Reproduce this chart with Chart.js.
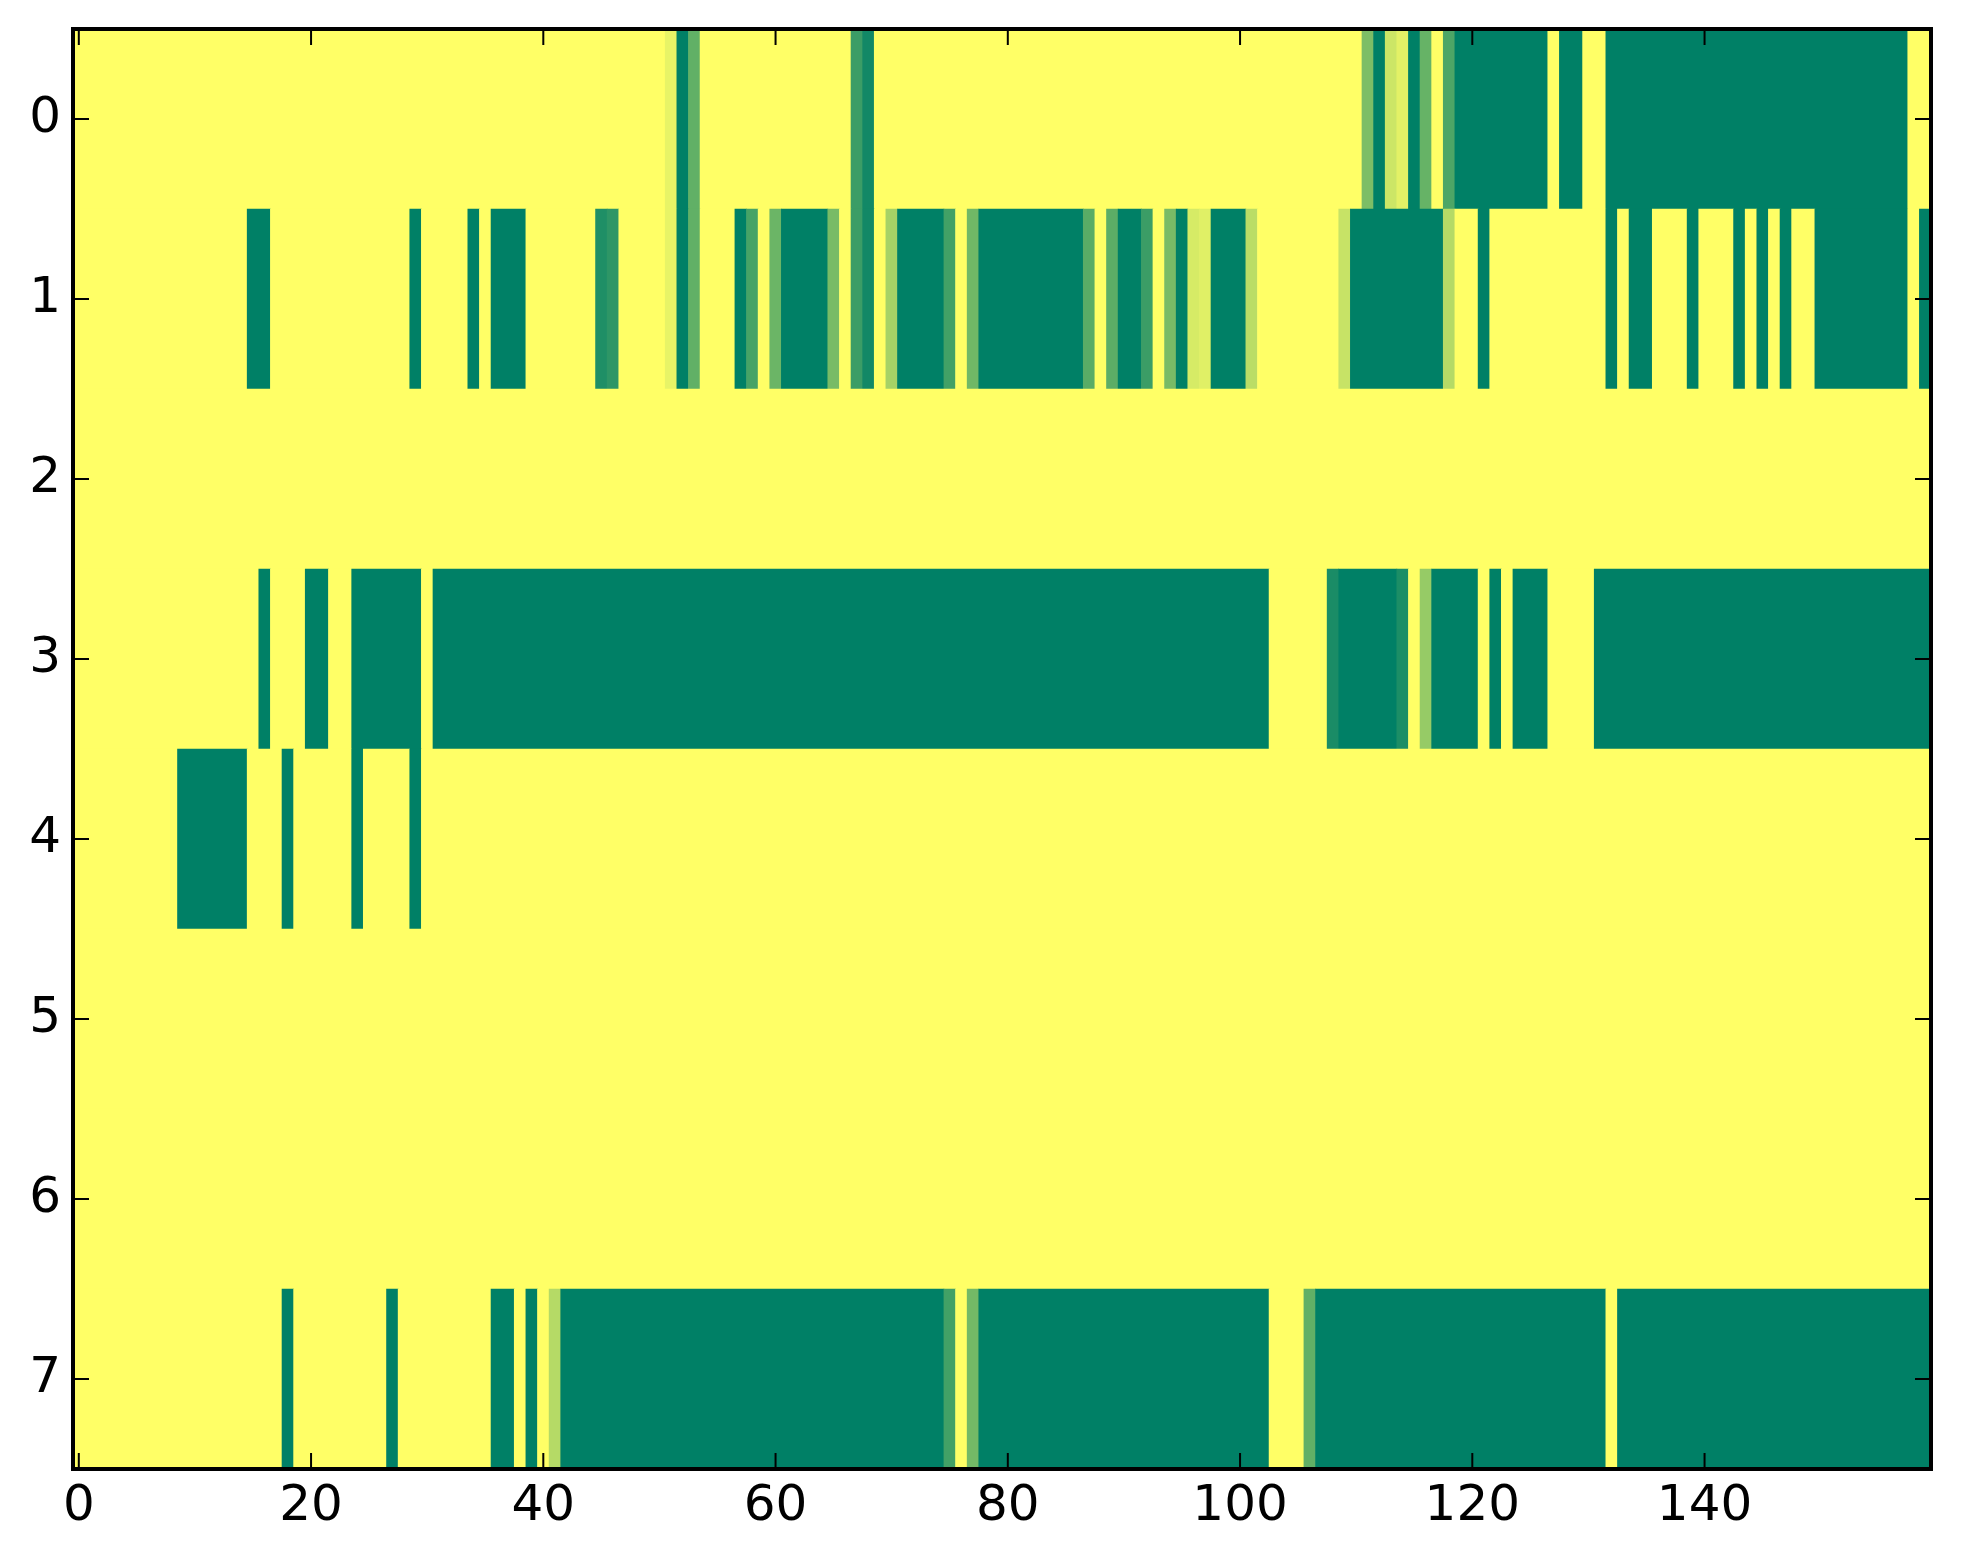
<!DOCTYPE html>
<html>
<head>
<meta charset="utf-8">
<script src="https://cdn.jsdelivr.net/npm/chart.js@4.4.1/dist/chart.umd.min.js"></script>
<style>
  html, body { margin: 0; padding: 0; background: #fff; }
  canvas { display: block; }
</style>
</head>
<body>
<canvas id="heat" width="1963" height="1564"></canvas>
<script>
// one array per image row, 160 columns each (0 = dark green, 1 = yellow)
const row0 = [
  1,1,1,1,1,1,1,1,1,1,1,1,1,1,1,1,1,1,1,1,
  1,1,1,1,1,1,1,1,1,1,1,1,1,1,1,1,1,1,1,1,
  1,1,1,1,1,1,1,1,1,1,1,.91,0,.38,1,1,1,1,1,1,
  1,1,1,1,1,1,1,.23,.07,1,1,1,1,1,1,1,1,1,1,1,
  1,1,1,1,1,1,1,1,1,1,1,1,1,1,1,1,1,1,1,1,
  1,1,1,1,1,1,1,1,1,1,1,.49,0,.8,.89,0,.4,1,.3,0,
  0,0,0,0,0,0,0,1,0,0,1,1,0,0,0,0,0,0,0,0,
  0,0,0,0,0,0,0,0,0,0,0,0,0,0,0,0,0,0,1,1
];
const row1 = [
  1,1,1,1,1,1,1,1,1,1,1,1,1,1,1,0,0,1,1,1,
  1,1,1,1,1,1,1,1,1,0,1,1,1,1,0,1,0,0,0,1,
  1,1,1,1,1,.12,.18,1,1,1,1,.91,0,.38,1,1,1,0,.28,1,
  .42,0,0,0,0,.47,1,.23,.07,1,.65,0,0,0,0,.26,1,.44,0,0,
  0,0,0,0,0,0,0,.35,1,.36,0,0,.23,1,.47,0,.84,.88,0,0,
  0,.73,1,1,1,1,1,1,1,.78,0,0,0,0,0,0,0,0,.71,1,
  1,0,1,1,1,1,1,1,1,1,1,1,0,1,0,0,1,1,1,0,
  1,1,1,0,1,0,1,0,1,1,0,0,0,0,0,0,0,0,1,0
];
const row2 = [
  1,1,1,1,1,1,1,1,1,1,1,1,1,1,1,1,1,1,1,1,
  1,1,1,1,1,1,1,1,1,1,1,1,1,1,1,1,1,1,1,1,
  1,1,1,1,1,1,1,1,1,1,1,1,1,1,1,1,1,1,1,1,
  1,1,1,1,1,1,1,1,1,1,1,1,1,1,1,1,1,1,1,1,
  1,1,1,1,1,1,1,1,1,1,1,1,1,1,1,1,1,1,1,1,
  1,1,1,1,1,1,1,1,1,1,1,1,1,1,1,1,1,1,1,1,
  1,1,1,1,1,1,1,1,1,1,1,1,1,1,1,1,1,1,1,1,
  1,1,1,1,1,1,1,1,1,1,1,1,1,1,1,1,1,1,1,1
];
const row3 = [
  1,1,1,1,1,1,1,1,1,1,1,1,1,1,1,1,0,1,1,1,
  0,0,1,1,0,0,0,0,0,0,1,0,0,0,0,0,0,0,0,0,
  0,0,0,0,0,0,0,0,0,0,0,0,0,0,0,0,0,0,0,0,
  0,0,0,0,0,0,0,0,0,0,0,0,0,0,0,0,0,0,0,0,
  0,0,0,0,0,0,0,0,0,0,0,0,0,0,0,0,0,0,0,0,
  0,0,0,1,1,1,1,1,.1,0,0,0,0,0,.11,1,.59,0,0,0,
  0,1,0,1,0,0,0,1,1,1,1,0,0,0,0,0,0,0,0,0,
  0,0,0,0,0,0,0,0,0,0,0,0,0,0,0,0,0,0,0,0
];
const row4 = [
  1,1,1,1,1,1,1,1,1,0,0,0,0,0,0,1,1,1,0,1,
  1,1,1,1,0,1,1,1,1,0,1,1,1,1,1,1,1,1,1,1,
  1,1,1,1,1,1,1,1,1,1,1,1,1,1,1,1,1,1,1,1,
  1,1,1,1,1,1,1,1,1,1,1,1,1,1,1,1,1,1,1,1,
  1,1,1,1,1,1,1,1,1,1,1,1,1,1,1,1,1,1,1,1,
  1,1,1,1,1,1,1,1,1,1,1,1,1,1,1,1,1,1,1,1,
  1,1,1,1,1,1,1,1,1,1,1,1,1,1,1,1,1,1,1,1,
  1,1,1,1,1,1,1,1,1,1,1,1,1,1,1,1,1,1,1,1
];
const row5 = [
  1,1,1,1,1,1,1,1,1,1,1,1,1,1,1,1,1,1,1,1,
  1,1,1,1,1,1,1,1,1,1,1,1,1,1,1,1,1,1,1,1,
  1,1,1,1,1,1,1,1,1,1,1,1,1,1,1,1,1,1,1,1,
  1,1,1,1,1,1,1,1,1,1,1,1,1,1,1,1,1,1,1,1,
  1,1,1,1,1,1,1,1,1,1,1,1,1,1,1,1,1,1,1,1,
  1,1,1,1,1,1,1,1,1,1,1,1,1,1,1,1,1,1,1,1,
  1,1,1,1,1,1,1,1,1,1,1,1,1,1,1,1,1,1,1,1,
  1,1,1,1,1,1,1,1,1,1,1,1,1,1,1,1,1,1,1,1
];
const row6 = [
  1,1,1,1,1,1,1,1,1,1,1,1,1,1,1,1,1,1,1,1,
  1,1,1,1,1,1,1,1,1,1,1,1,1,1,1,1,1,1,1,1,
  1,1,1,1,1,1,1,1,1,1,1,1,1,1,1,1,1,1,1,1,
  1,1,1,1,1,1,1,1,1,1,1,1,1,1,1,1,1,1,1,1,
  1,1,1,1,1,1,1,1,1,1,1,1,1,1,1,1,1,1,1,1,
  1,1,1,1,1,1,1,1,1,1,1,1,1,1,1,1,1,1,1,1,
  1,1,1,1,1,1,1,1,1,1,1,1,1,1,1,1,1,1,1,1,
  1,1,1,1,1,1,1,1,1,1,1,1,1,1,1,1,1,1,1,1
];
const row7 = [
  1,1,1,1,1,1,1,1,1,1,1,1,1,1,1,1,1,1,0,1,
  1,1,1,1,1,1,1,0,1,1,1,1,1,1,1,1,0,0,1,0,
  1,.71,0,0,0,0,0,0,0,0,0,0,0,0,0,0,0,0,0,0,
  0,0,0,0,0,0,0,0,0,0,0,0,0,0,0,.26,1,.45,0,0,
  0,0,0,0,0,0,0,0,0,0,0,0,0,0,0,0,0,0,0,0,
  0,0,0,1,1,1,.38,0,0,0,0,0,0,0,0,0,0,0,0,0,
  0,0,0,0,0,0,0,0,0,0,0,0,1,0,0,0,0,0,0,0,
  0,0,0,0,0,0,0,0,0,0,0,0,0,0,0,0,0,0,0,0
];
const rows = [row0, row1, row2, row3, row4, row5, row6, row7];
const xTicks = [0, 20, 40, 60, 80, 100, 120, 140];
const yTicks = [0, 1, 2, 3, 4, 5, 6, 7];
const nCols = row0.length;

// matplotlib "summer" colormap
function summer(v) {
    const r = Math.round(255 * v);
    const g = Math.round(255 * (0.5 + 0.5 * v));
    return `rgb(${r},${g},102)`;
}

// merge runs of equal value in a row into one floating bar
const cells = [];
const cellColors = [];
rows.forEach((row, r) => {
    let start = 0;
    for (let c = 1; c <= row.length; c++) {
        if (c === row.length || row[c] !== row[start]) {
            cells.push({ x: [start - 0.5, c - 0.5], y: r });
            cellColors.push(summer(row[start]));
            start = c;
        }
    }
});

// inward ticks on all four sides + black frame, like matplotlib classic
const frameTicks = {
    id: "frameTicks",
    afterDraw(chart) {
        const { ctx, chartArea: a, scales: { x, y } } = chart;
        const len = 16;
        ctx.save();
        ctx.strokeStyle = "#000";
        ctx.lineWidth = 2;
        ctx.beginPath();
        xTicks.forEach(v => {
            const px = x.getPixelForValue(v);
            ctx.moveTo(px, a.bottom); ctx.lineTo(px, a.bottom - len);
            ctx.moveTo(px, a.top); ctx.lineTo(px, a.top + len);
        });
        yTicks.forEach(v => {
            const py = y.getPixelForValue(v);
            ctx.moveTo(a.left, py); ctx.lineTo(a.left + len, py);
            ctx.moveTo(a.right, py); ctx.lineTo(a.right - len, py);
        });
        ctx.stroke();
        ctx.lineWidth = 4;
        ctx.strokeRect(a.left, a.top, a.right - a.left, a.bottom - a.top);
        ctx.restore();
    }
};

Chart.defaults.font.family = "'DejaVu Sans', sans-serif";
Chart.defaults.font.size = 50;
Chart.defaults.color = "#000";

new Chart(document.getElementById("heat").getContext("2d"), {
    type: "bar",
    data: {
        datasets: [{
            data: cells,
            backgroundColor: cellColors,
            borderWidth: 0,
            categoryPercentage: 1,
            barPercentage: 1
        }]
    },
    options: {
        indexAxis: "y",
        responsive: false,
        devicePixelRatio: 1,
        animation: false,
        layout: { padding: { top: 29, right: 32, left: 0, bottom: 0 } },
        plugins: {
            legend: { display: false },
            tooltip: { enabled: false }
        },
        scales: {
            x: {
                type: "linear",
                min: -0.5,
                max: nCols - 0.5,
                grid: { display: false, drawTicks: false },
                border: { display: false },
                ticks: { padding: 8, maxRotation: 0, callback: v => String(v) },
                afterBuildTicks: s => { s.ticks = xTicks.map(v => ({ value: v })); },
                afterFit: s => { s.height = 95; s.paddingLeft = 0; s.paddingRight = 0; }
            },
            y: {
                type: "linear",
                reverse: true,
                offset: false,
                min: -0.5,
                max: rows.length - 0.5,
                grid: { display: false, drawTicks: false, offset: false },
                border: { display: false },
                ticks: { padding: 12, callback: v => String(v) },
                afterBuildTicks: s => { s.ticks = yTicks.map(v => ({ value: v })); },
                afterFit: s => { s.width = 73; s.paddingTop = 0; s.paddingBottom = 0; }
            }
        }
    },
    plugins: [frameTicks]
});
</script>
</body>
</html>
